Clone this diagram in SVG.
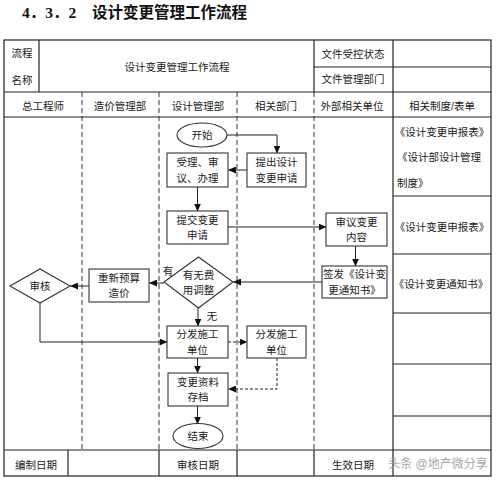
<svg xmlns="http://www.w3.org/2000/svg" width="500" height="480" viewBox="0 0 500 480">
<style>
text{font-family:"Liberation Sans","Noto Sans CJK SC",sans-serif;font-size:10.5px;fill:#222;text-anchor:middle;dominant-baseline:central}
.title{font-family:"Liberation Serif","Noto Sans CJK SC",serif;font-size:15.5px;font-weight:bold;text-anchor:start;fill:#111}
.l{text-anchor:start}
.frame{fill:none;stroke:#222;stroke-width:1.2}
.lane{fill:none;stroke:#333;stroke-width:1;stroke-dasharray:5,3}
.box{fill:#fff;stroke:#333;stroke-width:1.1}
.c{fill:none;stroke:#222;stroke-width:1;marker-end:url(#ah)}
.cd{fill:none;stroke:#222;stroke-width:1;stroke-dasharray:3,2;marker-end:url(#ah)}
.wm{fill:#999;font-size:12px;opacity:0.85}
</style>
<defs>
<marker id="ah" markerWidth="8" markerHeight="7" refX="7.5" refY="3.5" orient="auto" markerUnits="userSpaceOnUse">
<path d="M0,0 L8,3.5 L0,7 z" fill="#111"/>
</marker>
</defs>
<rect width="500" height="480" fill="#fff"/>
<g id="title">
<text class="title" x="22" y="12">4．3．2</text>
<text class="title" x="92" y="12">设计变更管理工作流程</text>
</g>
<g id="table">
<rect class="frame" x="4" y="40" width="487" height="436"/>
<line class="frame" x1="39" y1="40" x2="39" y2="92"/>
<line class="frame" x1="314" y1="40" x2="314" y2="92"/>
<line class="frame" x1="393" y1="40" x2="393" y2="92"/>
<line class="frame" x1="314" y1="67" x2="491" y2="67"/>
<line class="frame" x1="4" y1="92" x2="491" y2="92"/>
<line class="frame" x1="4" y1="117" x2="491" y2="117"/>
<line class="frame" x1="393" y1="92" x2="393" y2="450"/>
<line class="frame" x1="393" y1="196" x2="491" y2="196"/>
<line class="frame" x1="393" y1="254" x2="491" y2="254"/>
<line class="frame" x1="393" y1="313" x2="491" y2="313"/>
<line class="frame" x1="393" y1="364" x2="491" y2="364"/>
<line class="frame" x1="393" y1="416" x2="491" y2="416"/>
<line class="frame" x1="4" y1="450" x2="491" y2="450"/>
<line class="frame" x1="68" y1="450" x2="68" y2="476"/>
<line class="frame" x1="159" y1="450" x2="159" y2="476"/>
<line class="frame" x1="237" y1="450" x2="237" y2="476"/>
<line class="frame" x1="314" y1="450" x2="314" y2="476"/>
<line class="frame" x1="393" y1="450" x2="393" y2="476"/>
<line class="lane" x1="82" y1="92" x2="82" y2="450"/>
<line class="lane" x1="159" y1="92" x2="159" y2="450"/>
<line class="lane" x1="237" y1="92" x2="237" y2="450"/>
<line class="lane" x1="314" y1="92" x2="314" y2="450"/>
<text x="22" y="53">流程</text>
<text x="22" y="80">名称</text>
<text x="177" y="67">设计变更管理工作流程</text>
<text x="353" y="54">文件受控状态</text>
<text x="353" y="79">文件管理部门</text>
<text x="43" y="106">总工程师</text>
<text x="120" y="106">造价管理部</text>
<text x="198" y="106">设计管理部</text>
<text x="276" y="106">相关部门</text>
<text x="352" y="106">外部相关单位</text>
<text x="442" y="106">相关制度/表单</text>
<text x="442" y="132">《设计变更申报表》</text>
<text class="l" x="397" y="157">《设计部设计管理</text>
<text class="l" x="397" y="183">制度》</text>
<text x="442" y="227">《设计变更申报表》</text>
<text x="441" y="284">《设计变更通知书》</text>
<text x="36" y="465">编制日期</text>
<text x="198" y="465">审核日期</text>
<text x="353" y="465">生效日期</text>
<text class="wm" x="438" y="464">头条 @地产微分享</text>
</g>
<g id="connectors">
<polyline class="c" points="227,135 277,135 277,153"/>
<line class="c" x1="247" y1="170" x2="228.5" y2="170"/>
<line class="c" x1="197.5" y1="187" x2="197.5" y2="211"/>
<line class="c" x1="228" y1="227" x2="326" y2="227"/>
<line class="c" x1="355.5" y1="246" x2="355.5" y2="266"/>
<line class="c" x1="322" y1="282" x2="233.5" y2="282"/>
<line class="c" x1="164" y1="283" x2="149.5" y2="283"/>
<line class="c" x1="89" y1="286" x2="70.5" y2="286"/>
<polyline class="c" points="40,303 40,342 167,342"/>
<line class="c" x1="198" y1="308" x2="198" y2="326"/>
<line class="cd" x1="228" y1="342" x2="247" y2="342"/>
<polyline class="cd" points="277,358 277,389 228.5,389"/>
<line class="c" x1="197.5" y1="358" x2="197.5" y2="373"/>
<line class="c" x1="197.5" y1="406" x2="197.5" y2="424"/>
<text x="168" y="271">有</text>
<text x="212" y="316">无</text>
</g>
<g id="start">
<ellipse class="box" cx="202" cy="135" rx="25" ry="12"/>
<text x="202" y="135">开始</text>
</g>
<g id="accept">
<rect class="box" x="167" y="153" width="61" height="34"/>
<text x="197.5" y="162">受理、审</text>
<text x="197.5" y="178">议、办理</text>
</g>
<g id="propose">
<rect class="box" x="247" y="153" width="59" height="34"/>
<text x="276.5" y="162">提出设计</text>
<text x="276.5" y="178">变更申请</text>
</g>
<g id="submit">
<rect class="box" x="167" y="211" width="61" height="33"/>
<text x="197.5" y="220">提交变更</text>
<text x="197.5" y="235">申请</text>
</g>
<g id="review">
<rect class="box" x="326" y="213" width="61" height="33"/>
<text x="356.5" y="222">审议变更</text>
<text x="356.5" y="237">内容</text>
</g>
<g id="issue">
<rect class="box" x="322" y="266" width="65" height="32"/>
<text x="354.5" y="274">签发《设计变</text>
<text x="354.5" y="290">更通知书》</text>
</g>
<g id="costcheck">
<polygon class="box" points="164,282 198.5,257 233,282 198.5,308"/>
<text x="198.5" y="275">有无费</text>
<text x="198.5" y="290">用调整</text>
</g>
<g id="rebudget">
<rect class="box" x="89" y="269" width="60" height="33"/>
<text x="119" y="278">重新预算</text>
<text x="119" y="293">造价</text>
</g>
<g id="audit">
<polygon class="box" points="10,286 40,269 70,286 40,303"/>
<text x="40" y="286">审核</text>
</g>
<g id="distribute">
<rect class="box" x="167" y="326" width="61" height="32"/>
<text x="197.5" y="334">分发施工</text>
<text x="197.5" y="350">单位</text>
</g>
<g id="distribute2">
<rect class="box" x="247" y="326" width="59" height="32"/>
<text x="276.5" y="334">分发施工</text>
<text x="276.5" y="350">单位</text>
</g>
<g id="archive">
<rect class="box" x="168" y="373" width="60" height="33"/>
<text x="198" y="382">变更资料</text>
<text x="198" y="397">存档</text>
</g>
<g id="end">
<ellipse class="box" cx="198" cy="436" rx="25" ry="12.5"/>
<text x="198" y="436">结束</text>
</g>
</svg>
